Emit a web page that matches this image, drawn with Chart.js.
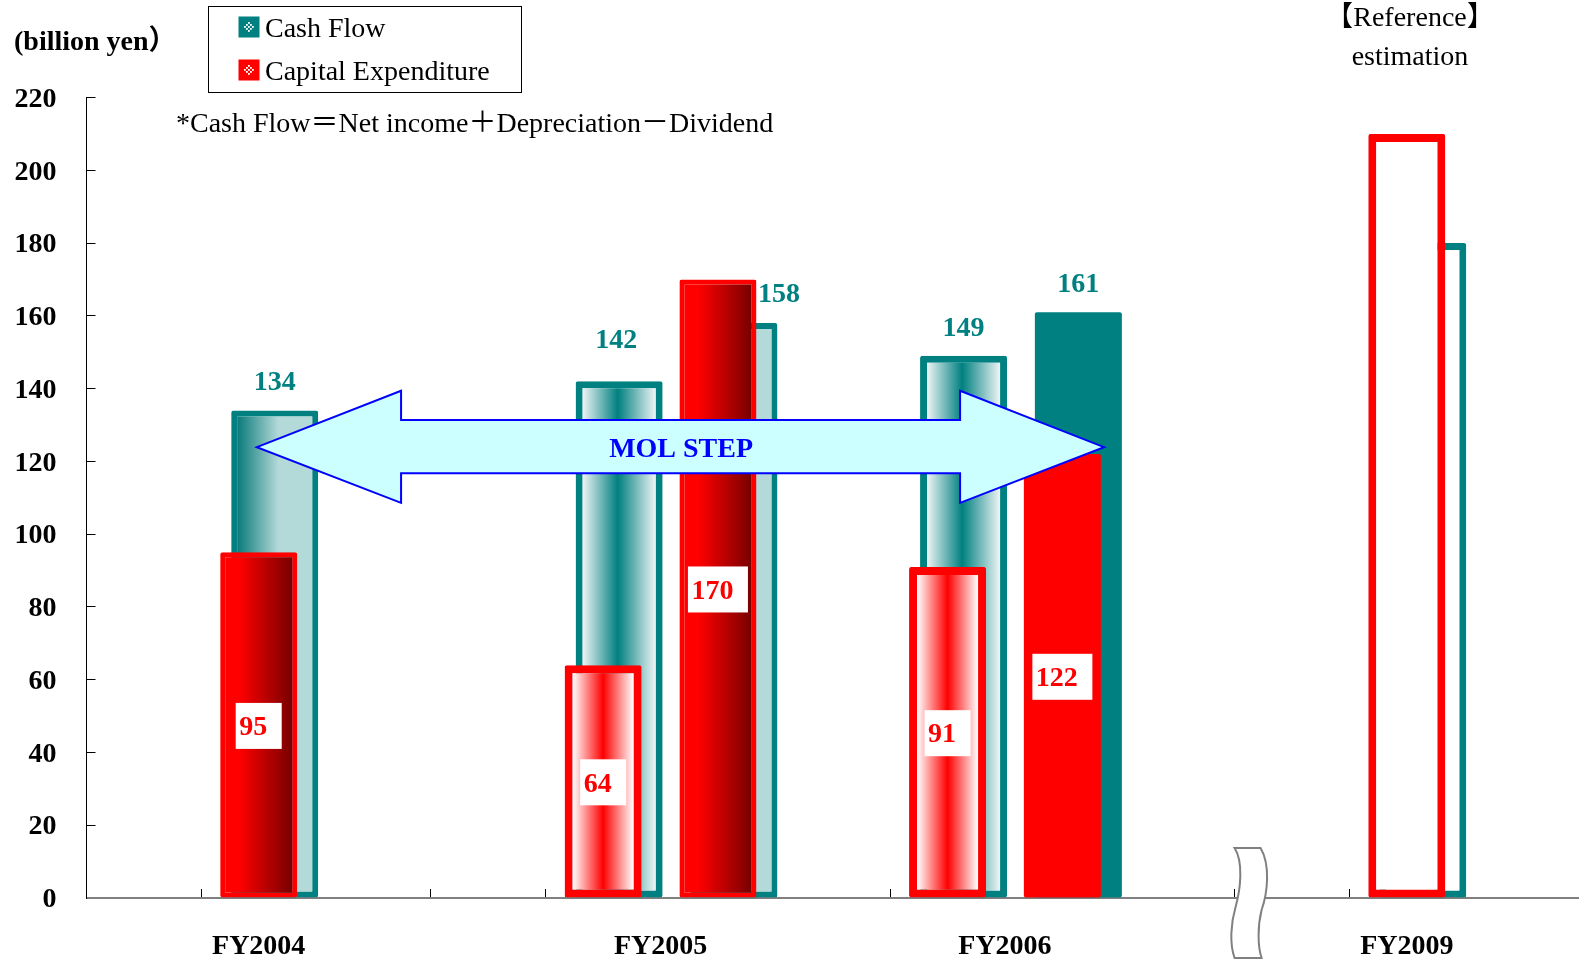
<!DOCTYPE html>
<html>
<head>
<meta charset="utf-8">
<title>Cash Flow and Capital Expenditure</title>
<script src="https://cdn.jsdelivr.net/npm/chart.js@4.4.1/dist/chart.umd.min.js"></script>
<style>
  html, body { margin: 0; padding: 0; background: #ffffff; }
  #wrap { width: 1579px; height: 963px; position: relative; }
</style>
</head>
<body>
<div id="wrap"><canvas id="chart" width="1579" height="963"></canvas></div>
<script>
// Slots along the category axis; the blank slots keep the year groups apart.
const slotYears = [null, 'FY2004', null, null, 'FY2005', 'FY2005', null, 'FY2006', 'FY2006', null, null, 'FY2009', null];
const cashFlow = [null, 134, null, null, 142, 158, null, 149, 161, null, null, 180, null];
const capitalExpenditure = [null, 95, null, null, 64, 170, null, 91, 122, null, null, 210, null];
const estimateYears = ['FY2009'];
const seriesNames = ['Cash Flow', 'Capital Expenditure'];
const yMin = 0, yMax = 220, yStep = 20;

// Fill treatment of the pair of bars in each slot
const barLook = [null, 'shaded', null, null, 'banded', 'shaded', null, 'banded', 'solid', null, null, 'hollow', null];
// Hand-placed value labels (pixel nudges) where the default spot is crowded
const cashLabelNudge = { 4: [-3, -13], 5: [45, -1] };

const FONT = '"Liberation Serif", "Times New Roman", "Noto Sans CJK JP", serif';
const TEAL = '#008080', TEAL_PALE = '#b3d9d9', TEAL_MIST = '#eef4f5';
const RED = '#ff0000', MAROON = '#780000';
const TEXT_DROP = 2; // serif glyphs sit a little high on a 'middle' baseline

const looks = {
  cash: {
    shaded: { border: 6, stops: [[0, '#0a7a7a'], [0.55, TEAL_PALE], [1, TEAL_PALE]] },
    banded: { border: 7, stops: [[0, TEAL_MIST], [0.48, TEAL], [1, TEAL_MIST]] },
    solid:  { border: 0, color: TEAL },
    hollow: { border: 7, color: '#ffffff' }
  },
  capex: {
    shaded: { border: 5, stops: [[0, RED], [0.2, RED], [1, MAROON]] },
    banded: { border: 8, stops: [[0, '#ffffff'], [0.5, RED], [1, '#ffffff']] },
    solid:  { border: 0, color: RED },
    hollow: { border: 8, color: '#ffffff' }
  }
};
const lookBySeries = { 1: looks.capex, 2: looks.cash };

// Year captions sit on a finer axis so a two-bar year is labelled between its bars.
const yearAxisLabels = new Array(slotYears.length * 2 + 1).fill('');
[...new Set(slotYears.filter(Boolean))].forEach(year => {
  const idx = slotYears.map((v, i) => (v === year ? i : -1)).filter(i => i >= 0);
  const mid = idx.reduce((a, b) => a + b, 0) / idx.length;
  yearAxisLabels[Math.round(mid * 2 + 1)] = year;
});

const slotCount = slotYears.length;
const catPct = 48 / 114.8;

function fillFor(look) { return barLook.map(k => (k ? (look[k].color || '#ffffff') : 'rgba(0,0,0,0)')); }
function borderFor(look) { return barLook.map(k => (k ? look[k].border : 0)); }

// Gradient fills need the final bar geometry, so they are applied just before drawing.
const barFills = {
  id: 'barFills',
  beforeDatasetsDraw(chart) {
    const c = chart.ctx;
    Object.keys(lookBySeries).forEach(di => {
      const look = lookBySeries[di];
      chart.getDatasetMeta(+di).data.forEach((el, i) => {
        const k = barLook[i];
        if (!k || !look[k].stops || el.y == null) return;
        const bw = look[k].border;
        const x0 = el.x - el.width / 2 + bw, x1 = el.x + el.width / 2 - bw;
        const g = c.createLinearGradient(x0, 0, x1, 0);
        look[k].stops.forEach(([o, col]) => g.addColorStop(o, col));
        el.options.backgroundColor = g;
      });
    });
  }
};

function drawArrow(chart) {
  const xs = chart.scales.x, ys = chart.scales.y, c = chart.ctx;
  const cw = xs.width / slotCount;
  const X = f => xs.left + f * cw;
  const Y = v => ys.getPixelForValue(v);
  const pts = [
    [X(1.484), Y(123.9)], [X(2.740), Y(139.4)], [X(2.740), Y(131.4)],
    [X(7.609), Y(131.4)], [X(7.609), Y(139.4)], [X(8.863), Y(123.9)],
    [X(7.609), Y(108.6)], [X(7.609), Y(116.7)], [X(2.740), Y(116.7)],
    [X(2.740), Y(108.6)]
  ];
  c.save();
  c.beginPath();
  pts.forEach(([x, y], i) => (i ? c.lineTo(x, y) : c.moveTo(x, y)));
  c.closePath();
  c.fillStyle = '#ccffff';
  c.fill();
  c.lineWidth = 2;
  c.lineJoin = 'miter';
  c.strokeStyle = '#0000ff';
  c.stroke();
  c.font = 'bold 28px ' + FONT;
  c.fillStyle = '#0000ff';
  c.textAlign = 'center';
  c.textBaseline = 'middle';
  c.fillText('MOL STEP', X(5.179), Y(123.9) + 1 + TEXT_DROP);
  c.restore();
}

function drawValueLabels(chart) {
  const c = chart.ctx;
  c.save();
  c.font = 'bold 28px ' + FONT;
  c.textBaseline = 'middle';
  // Cash flow values above their bars
  chart.getDatasetMeta(2).data.forEach((el, i) => {
    const v = cashFlow[i];
    if (v == null || estimateYears.includes(slotYears[i])) return;
    const [dx, dy] = cashLabelNudge[i] || [0, 0];
    c.fillStyle = TEAL;
    c.textAlign = 'center';
    c.fillText(String(v), el.x + dx, el.y - 29.5 + dy + TEXT_DROP);
  });
  // Capital expenditure values on white tags halfway up their bars
  chart.getDatasetMeta(1).data.forEach((el, i) => {
    const v = capitalExpenditure[i];
    if (v == null || estimateYears.includes(slotYears[i])) return;
    const txt = String(v);
    const w = c.measureText(txt).width;
    const bw = w + 18, bh = 46;
    const mid = (el.y + el.base) / 2 + 1;
    const left = el.x - bw / 2;
    c.fillStyle = '#ffffff';
    c.fillRect(left, mid - bh / 2, bw, bh);
    c.fillStyle = RED;
    c.textAlign = 'left';
    c.fillText(txt, left + 3.5, mid + TEXT_DROP);
  });
  c.restore();
}

function drawAxisBreak(chart) {
  const xs = chart.scales.x, c = chart.ctx;
  const cw = xs.width / slotCount;
  const x0 = xs.left + 10 * cw, y0 = xs.top;
  c.save();
  c.translate(x0, y0);
  c.beginPath();
  c.moveTo(0, -50);
  c.lineTo(26, -50);
  c.bezierCurveTo(36, -33, 33, -5, 27, 12);
  c.bezierCurveTo(23, 28, 23, 48, 27, 60);
  c.lineTo(0, 60);
  c.bezierCurveTo(-5, 46, -4, 26, 1, 9);
  c.bezierCurveTo(6, -9, 9, -36, 0, -50);
  c.closePath();
  c.fillStyle = '#ffffff';
  c.fill();
  c.lineWidth = 2;
  c.strokeStyle = '#808080';
  c.stroke();
  c.restore();
}

function legendSwatch(c, x, y, color) {
  c.fillStyle = color;
  c.fillRect(x, y, 21, 21);
  c.fillStyle = '#ffffff';
  const s = 2;
  for (let r = 0; r < 5; r++) {
    for (let q = 0; q < 5; q++) {
      if ((r + q) % 2) continue;
      if ((r === 0 || r === 4) && (q === 0 || q === 4)) continue;
      c.fillRect(x + 5.5 + q * s, y + 5.5 + r * s, s * 0.9, s * 0.9);
    }
  }
}

function drawTexts(chart) {
  const c = chart.ctx;
  c.save();
  // legend
  c.strokeStyle = '#000000';
  c.lineWidth = 1;
  c.strokeRect(208.5, 6.5, 313, 86);
  legendSwatch(c, 238.5, 16.5, TEAL);
  legendSwatch(c, 238.5, 59.5, RED);
  c.font = '28px ' + FONT;
  c.fillStyle = '#000000';
  c.textAlign = 'left';
  c.textBaseline = 'middle';
  c.fillText(seriesNames[0], 265, 28 + TEXT_DROP);
  c.fillText(seriesNames[1], 265, 71 + TEXT_DROP);
  // note on the definition of cash flow
  c.fillText('*Cash Flow\uFF1DNet income\uFF0BDepreciation\uFF0DDividend', 176, 123 + TEXT_DROP);
  // unit
  c.font = 'bold 28px ' + FONT;
  c.fillText('(billion yen\uFF09', 14, 41 + TEXT_DROP);
  // estimate caption
  c.font = '28px ' + FONT;
  c.textAlign = 'center';
  c.fillText('\u3010Reference\u3011', 1410, 17 + TEXT_DROP);
  c.fillText('estimation', 1410, 56 + TEXT_DROP);
  c.restore();
}

const overlays = {
  id: 'overlays',
  afterDraw(chart) {
    drawArrow(chart);
    drawValueLabels(chart);
    drawAxisBreak(chart);
    drawTexts(chart);
  }
};

const tickFont = { family: FONT, size: 28, weight: 'bold' };

new Chart(document.getElementById('chart'), {
  type: 'bar',
  data: {
    labels: slotYears.map(v => v || ''),
    datasets: [
      { label: '', data: slotYears.map(() => null), backgroundColor: 'rgba(0,0,0,0)',
        categoryPercentage: catPct, barPercentage: 1 },
      { label: seriesNames[1], data: capitalExpenditure,
        backgroundColor: fillFor(looks.capex), borderColor: RED, borderWidth: borderFor(looks.capex),
        borderSkipped: false, borderRadius: 2,
        categoryPercentage: catPct, barPercentage: 77 / 16 },
      { label: seriesNames[0], data: cashFlow,
        backgroundColor: fillFor(looks.cash), borderColor: TEAL, borderWidth: borderFor(looks.cash),
        borderSkipped: false, borderRadius: 2,
        categoryPercentage: catPct, barPercentage: 87 / 16 }
    ]
  },
  options: {
    responsive: false,
    animation: false,
    events: [],
    layout: { padding: { left: 0, right: 0, top: 97.5, bottom: 0 } },
    plugins: { legend: { display: false }, tooltip: { enabled: false } },
    scales: {
      x: {
        type: 'category', position: 'bottom', offset: true, weight: 0,
        grid: { offset: true, drawOnChartArea: false, tickLength: -9, color: '#000000', lineWidth: 1 },
        border: { color: '#808080', width: 2 },
        ticks: { display: false },
        afterFit: s => { s.height = 1; }
      },
      yearAxis: {
        type: 'category', labels: yearAxisLabels, position: 'bottom', offset: false, weight: 1,
        grid: { display: false, drawTicks: true, tickLength: 31 },
        border: { display: false },
        ticks: { autoSkip: false, maxRotation: 0, minRotation: 0, padding: 0, font: tickFont, color: '#000000' },
        afterFit: s => { s.height = 64; }
      },
      y: {
        min: yMin, max: yMax,
        ticks: { stepSize: yStep, padding: 39, labelOffset: 2, font: tickFont, color: '#000000' },
        grid: { drawOnChartArea: false, tickLength: -9, color: '#000000', lineWidth: 1 },
        border: { color: '#000000', width: 1 },
        afterFit: s => { s.width = 86.5; }
      }
    }
  },
  plugins: [barFills, overlays]
});
</script>
</body>
</html>
